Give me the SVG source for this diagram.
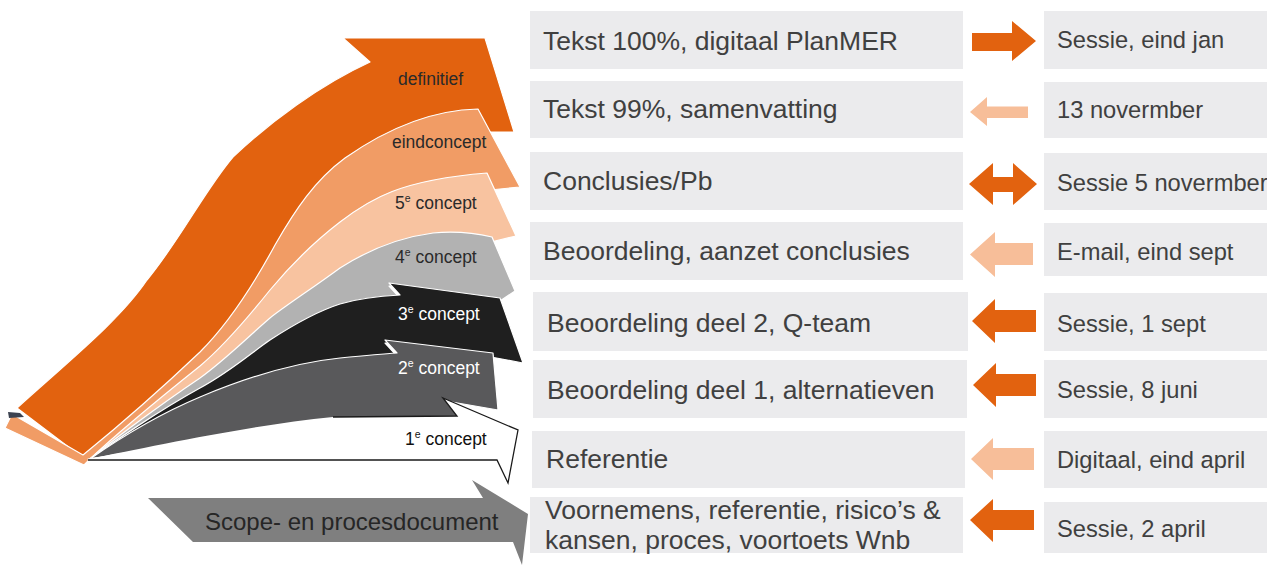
<svg xmlns="http://www.w3.org/2000/svg" width="1267" height="565" viewBox="0 0 1267 565">
<style>
.box{fill:#ebebed}
.t{font-family:"Liberation Sans",Arial,sans-serif;fill:#404040}
.m{font-size:26.5px}
.r{font-size:23.7px}
.lbl{font-family:"Liberation Sans",Arial,sans-serif;font-size:17.5px;fill:#2a2a2a}
.band{stroke:#fff;stroke-width:1.2;stroke-linejoin:round}
.dk{fill:#e2620f}
.lt{fill:#f7be99}
</style>
<rect width="1267" height="565" fill="#fff"/>

<g id="band-definitief">
<path class="band" fill="#e2620f" d="M17,408 C70,360 120,320 147,280 C180,240 205,190 233,157 C270,122 320,85 370,62 L343,38 L485,38 L514,132 L488,132 L478,112 C430,113 385,133 345,161 C315,183 295,213 275,248 C255,285 230,325 200,355 C160,393 120,428 83,458 Z"/>
<text class="lbl" x="398" y="85">definitief</text>
</g>
<g id="band-eindconcept">
<path class="band" fill="#f19c65" d="M5,428 L12,414 L83,455 C120,425 160,390 200,352 C230,322 255,282 275,245 C295,210 315,180 345,158 C385,130 430,110 478,109 L520,187 L490,190 L487,176 C400,183 370,202 340,225 C310,248 290,269 270,293 C250,318 225,348 200,369 C160,401 110,443 90,459 L84,465 Z"/>
<text class="lbl" x="392" y="148">eindconcept</text>
</g>
<g id="band-5e">
<path class="band" fill="#f8c3a0" d="M90,459 C110,440 160,398 200,366 C225,345 250,315 270,290 C290,266 310,245 340,222 C370,199 400,180 487,173 L516,236 L491,242 L492,240 C475,236 455,234 433,236 C395,241 365,255 340,271 C310,293 285,309 270,321 C250,338 225,363 200,381 C160,408 110,445 90,459 Z"/>
<text class="lbl" x="395" y="209">5<tspan dy="-7" font-size="10.5">e</tspan><tspan dy="7"> concept</tspan></text>
</g>
<g id="band-4e">
<path class="band" fill="#b2b2b2" d="M90,459 C110,442 160,405 200,378 C225,360 250,335 270,318 C285,306 310,290 340,268 C365,252 395,238 433,233 C455,231 475,233 492,237 L515,291 L500,301 L389,286 L400,298 C380,299 360,301 340,307 C315,315 290,330 270,343 C255,353 230,375 200,391 C160,413 110,447 90,459 Z"/>
<text class="lbl" x="395" y="263">4<tspan dy="-7" font-size="10.5">e</tspan><tspan dy="7"> concept</tspan></text>
</g>
<g id="band-3e">
<path class="band" fill="#1f1f1f" d="M90,459 C110,444 160,410 200,388 C230,372 255,350 270,340 C290,327 315,312 340,304 C360,298 380,296 400,295 L389,283 L500,298 L523,363 L491,357 L493,356 L385,343 L397,356 C380,357 360,359 340,361 C300,365 250,379 200,400 C150,421 110,448 90,459 Z"/>
<text class="lbl" x="398" y="320" style="fill:#fff">3<tspan dy="-7" font-size="10.5">e</tspan><tspan dy="7"> concept</tspan></text>
</g>
<g id="band-2e">
<path fill="#3c4250" d="M8,412 L20,413 L24,417 L9,418 Z"/>
<path class="band" fill="#59595b" d="M90,459 C110,445 150,418 200,397 C250,376 300,362 340,358 C360,356 380,354 397,353 L385,340 L493,353 L498,410 L446,401 L460,418 L457,419 L333,420 C250,428 150,450 88,459 Z"/>
<text class="lbl" x="398" y="374" style="fill:#fff">2<tspan dy="-7" font-size="10.5">e</tspan><tspan dy="7"> concept</tspan></text>
</g>
<g id="band-1e">
<path fill="#fff" d="M88,459 C150,447 250,425 333,417 L457,416 L443,398 L518,430 L508,483 L497,460 L88,460 Z"/>
<path fill="none" stroke="#1a1a1a" stroke-width="1.3" stroke-linejoin="miter" d="M333,417 L457,416 L443,398 L518,430 L508,483 L497,460 L88,460"/>
<text class="lbl" x="405" y="445" style="fill:#111">1<tspan dy="-7" font-size="10.5">e</tspan><tspan dy="7"> concept</tspan></text>
</g>

<g id="scope">
<path fill="#7f7f7f" d="M148,498 L483,498 L472,480 L528,514 L522,565 L513,542 L193,542 Z"/>
<text class="t" x="205" y="530" style="font-size:24px;fill:#262626">Scope- en procesdocument</text>
</g>

<g id="step-1"><rect class="box" x="530" y="11" width="433" height="58"/><text class="t m" x="543" y="50">Tekst 100%, digitaal PlanMER</text></g>
<g id="step-2"><rect class="box" x="530" y="81" width="433" height="57"/><text class="t m" x="543" y="118">Tekst 99%, samenvatting</text></g>
<g id="step-3"><rect class="box" x="530" y="152" width="433" height="58"/><text class="t m" x="543" y="190">Conclusies/Pb</text></g>
<g id="step-4"><rect class="box" x="530" y="222" width="433" height="58"/><text class="t m" x="543" y="260">Beoordeling, aanzet conclusies</text></g>
<g id="step-5"><rect class="box" x="533" y="292" width="435" height="59"/><text class="t m" x="547" y="332">Beoordeling deel 2, Q-team</text></g>
<g id="step-6"><rect class="box" x="533" y="360" width="434" height="58"/><text class="t m" x="547" y="399">Beoordeling deel 1, alternatieven</text></g>
<g id="step-7"><rect class="box" x="532" y="431" width="433" height="57"/><text class="t m" x="546" y="468">Referentie</text></g>
<g id="step-8"><rect class="box" x="530" y="497" width="433" height="56"/><text class="t m" x="545" y="519">Voornemens, referentie, risico’s &amp;</text><text class="t m" x="545" y="549">kansen, proces, voortoets Wnb</text></g>

<g id="moment-1"><rect class="box" x="1044" y="11" width="223" height="58"/><text class="t r" x="1057" y="48">Sessie, eind jan</text></g>
<g id="moment-2"><rect class="box" x="1044" y="82" width="223" height="56"/><text class="t r" x="1057" y="118">13 novermber</text></g>
<g id="moment-3"><rect class="box" x="1044" y="153" width="223" height="57"/><text class="t r" x="1057" y="191">Sessie 5 novermber</text></g>
<g id="moment-4"><rect class="box" x="1044" y="223" width="223" height="53"/><text class="t r" x="1057" y="260">E-mail, eind sept</text></g>
<g id="moment-5"><rect class="box" x="1044" y="293" width="223" height="58"/><text class="t r" x="1057" y="332">Sessie, 1 sept</text></g>
<g id="moment-6"><rect class="box" x="1044" y="360" width="223" height="58"/><text class="t r" x="1057" y="398">Sessie, 8 juni</text></g>
<g id="moment-7"><rect class="box" x="1044" y="431" width="223" height="57"/><text class="t r" x="1057" y="468">Digitaal, eind april</text></g>
<g id="moment-8"><rect class="box" x="1044" y="502" width="223" height="51"/><text class="t r" x="1057" y="537">Sessie, 2 april</text></g>

<g id="connectors">
<path class="dk" d="M972,33 L1012,33 L1012,21 L1036,41 L1012,61 L1012,51 L972,51 Z"/>
<path class="lt" d="M970,112 L987,97 L987,106.5 L1028,106.5 L1028,118 L987,118 L987,126 Z"/>
<path class="dk" d="M969,184 L993,163 L993,177 L1013,177 L1013,163 L1037,184 L1013,205 L1013,192 L993,192 L993,205 Z"/>
<path class="lt" d="M970,254.5 L995,232 L995,243 L1033,243 L1033,265 L995,265 L995,277 Z"/>
<path class="dk" d="M972,321 L995,299 L995,310 L1036,310 L1036,332 L995,332 L995,343 Z"/>
<path class="dk" d="M973,385 L996,363 L996,374 L1036,374 L1036,396 L996,396 L996,407 Z"/>
<path class="lt" d="M971,459 L993,438 L993,448 L1034,448 L1034,470 L993,470 L993,480 Z"/>
<path class="dk" d="M970,520 L993,499 L993,510 L1034,510 L1034,530 L993,530 L993,542 Z"/>
</g>
</svg>
